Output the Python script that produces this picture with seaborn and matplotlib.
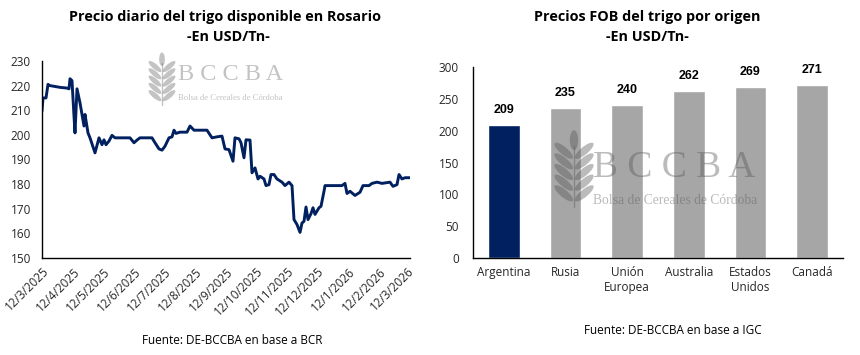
import matplotlib
matplotlib.use("Agg")
import matplotlib.pyplot as plt
import matplotlib.dates as mdates
from matplotlib.patches import Ellipse
import seaborn as sns
import pandas as pd

# ---------------- data ----------------
line_dates = [
    "2025-03-12", "2025-03-13", "2025-03-16", "2025-03-18", "2025-03-20", "2025-03-30",
    "2025-04-06", "2025-04-08", "2025-04-09", "2025-04-11", "2025-04-13", "2025-04-14",
    "2025-04-16", "2025-04-19", "2025-04-23", "2025-04-24", "2025-04-27", "2025-04-29",
    "2025-05-04", "2025-05-08", "2025-05-11", "2025-05-13", "2025-05-15", "2025-05-18",
    "2025-05-21", "2025-05-24", "2025-05-29", "2025-06-08", "2025-06-12", "2025-06-15",
    "2025-06-18", "2025-06-30", "2025-07-03", "2025-07-07", "2025-07-10", "2025-07-13",
    "2025-07-17", "2025-07-20", "2025-07-22", "2025-07-24", "2025-07-28", "2025-08-04",
    "2025-08-07", "2025-08-11", "2025-08-24", "2025-08-29", "2025-09-03", "2025-09-08",
    "2025-09-11", "2025-09-15", "2025-09-19", "2025-09-21", "2025-09-25", "2025-09-27",
    "2025-09-30", "2025-10-02", "2025-10-06", "2025-10-08", "2025-10-11", "2025-10-14",
    "2025-10-16", "2025-10-20", "2025-10-22", "2025-10-25", "2025-10-27", "2025-10-30",
    "2025-11-02", "2025-11-07", "2025-11-10", "2025-11-14", "2025-11-17", "2025-11-19",
    "2025-11-22", "2025-11-25", "2025-11-27", "2025-11-29", "2025-12-01", "2025-12-03",
    "2025-12-06", "2025-12-08", "2025-12-10", "2025-12-14", "2025-12-16", "2025-12-19",
    "2025-12-20", "2026-01-06", "2026-01-09", "2026-01-11", "2026-01-14", "2026-01-19",
    "2026-01-24", "2026-01-27", "2026-02-02", "2026-02-05", "2026-02-10", "2026-02-15",
    "2026-02-23", "2026-02-26", "2026-03-02", "2026-03-04", "2026-03-07", "2026-03-10",
    "2026-03-15",
]
line_prices = [
    209.7, 215.0, 215.0, 220.5, 220.0, 219.3,
    219.0, 218.7, 222.8, 222.0, 207.6, 200.8,
    218.7, 213.0, 203.6, 208.3, 200.8, 198.8,
    192.7, 198.8, 196.0, 198.0, 196.0, 197.5,
    199.8, 198.8, 198.8, 198.8, 196.8, 197.9,
    198.8, 198.8, 196.8, 194.3, 193.8, 195.4,
    198.8, 199.2, 201.9, 200.6, 201.1, 201.1,
    203.6, 201.9, 201.9, 198.8, 199.2, 199.5,
    194.3, 194.0, 189.3, 198.8, 198.4, 196.8,
    190.7, 198.0, 197.9, 184.6, 186.6, 182.1,
    183.2, 182.1, 179.4, 179.8, 183.9, 183.9,
    182.1, 180.8, 179.4, 180.8, 179.4, 165.6,
    163.6, 160.4, 164.2, 164.9, 170.7, 165.6,
    168.0, 170.4, 167.7, 170.4, 171.0, 177.1,
    179.4, 179.4, 180.3, 176.2, 177.1, 175.4,
    176.7, 179.4, 179.4, 180.3, 180.8, 180.3,
    180.8, 179.1, 179.8, 183.9, 182.1, 182.6,
    182.6,
]

countries = ["Argentina", "Rusia", "Unión\nEuropea", "Australia", "Estados\nUnidos", "Canadá"]
fob_prices = [209, 235, 240, 262, 269, 271]

title_left = ["Precio diario del trigo disponible en Rosario", "-En USD/Tn-"]
title_right = ["Precios FOB del trigo por origen", "-En USD/Tn-"]
source_left = "Fuente: DE-BCCBA en base a BCR"
source_right = "Fuente: DE-BCCBA en base a IGC"

# ---------------- style ----------------
sns.set_theme(style="white")
plt.rcParams["font.family"] = ["Open Sans", "DejaVu Sans"]

NAVY = "#002060"
GREY = "#a6a6a6"
TXT = "#262626"

W, H = 860, 355
fig = plt.figure(figsize=(W / 100, H / 100), dpi=100)

def fx(px):
    return px / W

def fy(py):
    return 1 - py / H

# ---------------- left: line ----------------
axL = fig.add_axes([fx(42), fy(258), fx(410 - 42), (258 - 61) / H])
df_line = pd.DataFrame({"fecha": pd.to_datetime(line_dates), "precio": line_prices})
sns.lineplot(data=df_line, x="fecha", y="precio", ax=axL, color=NAVY, linewidth=2.1)
axL.set_xlim(pd.Timestamp("2025-03-12"), pd.Timestamp("2026-03-15"))
axL.set_ylim(150, 230)
axL.set_yticks(range(150, 231, 10))
ticks = pd.date_range("2025-03-01", "2026-03-01", freq="MS") + pd.Timedelta(days=11)
axL.set_xticks(ticks)
axL.set_xticklabels([f"{d.day}/{d.month}/{d.year}" for d in ticks],
                    rotation=45, ha="right", rotation_mode="anchor", fontsize=8.5, color=TXT)
axL.tick_params(axis="y", labelsize=8.5, labelcolor=TXT, length=0, pad=8)
axL.tick_params(axis="x", length=0, pad=5)
axL.set_xlabel("")
axL.set_ylabel("")
for s in ["top", "right"]:
    axL.spines[s].set_visible(False)
for s in ["left", "bottom"]:
    axL.spines[s].set_color("black")
    axL.spines[s].set_linewidth(1.0)

# ---------------- right: bars ----------------
axR = fig.add_axes([fx(473), fy(258), fx(843 - 473), (258 - 67) / H])
df_bar = pd.DataFrame({"pais": countries, "fob": fob_prices})
palette = {c: (NAVY if i == 0 else GREY) for i, c in enumerate(countries)}
sns.barplot(data=df_bar, x="pais", y="fob", hue="pais", palette=palette,
            legend=False, ax=axR, width=0.51, saturation=1)
axR.set_ylim(0, 300)
axR.set_yticks(range(0, 301, 50))
axR.set_xlim(-0.5, len(countries) - 0.5)
axR.tick_params(axis="y", labelsize=8.5, labelcolor=TXT, length=0, pad=10)
axR.tick_params(axis="x", labelsize=8.5, labelcolor=TXT, length=0, pad=6)
axR.set_xlabel("")
axR.set_ylabel("")
for i, v in enumerate(fob_prices):
    axR.annotate(f"{v}", (i, v), xytext=(0, 15), textcoords="offset pixels",
                 ha="center", va="center", fontsize=9, fontweight="bold",
                 color="black", family=["Liberation Sans", "DejaVu Sans"])
for s in ["top", "right"]:
    axR.spines[s].set_visible(False)
for s in ["left", "bottom"]:
    axR.spines[s].set_color("black")
    axR.spines[s].set_linewidth(1.0)

# ---------------- titles and sources ----------------
tfont = dict(fontsize=10.4, fontweight="bold", color="black", ha="center", va="center")
fig.text(fx(225), fy(17), title_left[0], **tfont)
fig.text(fx(228), fy(37), title_left[1], **tfont)
fig.text(fx(647), fy(17), title_right[0], **tfont)
fig.text(fx(647), fy(37), title_right[1], **tfont)
fig.text(fx(232), fy(341), source_left, fontsize=8.5, color="black", ha="center", va="center")
fig.text(fx(673), fy(330), source_right, fontsize=8.5, color="black", ha="center", va="center")

# ---------------- watermarks ----------------
ov = fig.add_axes([0, 0, 1, 1], zorder=10)
ov.set_xlim(0, W)
ov.set_ylim(H, 0)
ov.axis("off")
ov.patch.set_alpha(0)

WM = "#555555"

def wheat(cx, top, h, alpha):
    w = h * 0.5
    ov.add_patch(Ellipse((cx, top + h * 0.12), w * 0.22, h * 0.26, angle=0,
                         color=WM, alpha=alpha, lw=0))
    n = 5
    for k in range(n):
        y = top + h * (0.26 + k * 0.14)
        for side in (-1, 1):
            ov.add_patch(Ellipse((cx + side * w * 0.27, y), w * 0.62, w * 0.2,
                                 angle=-side * 40, color=WM, alpha=alpha, lw=0))
    ov.plot([cx, cx], [top + h * 0.2, top + h], color=WM, alpha=alpha, lw=1)

def logo(x0, y_big, y_small, big_size, small_size, icon_cx, icon_top, icon_h, alpha):
    ov.text(x0, y_big, "B C C B A", fontsize=big_size, family=["Liberation Serif", "DejaVu Serif"],
            color=WM, alpha=alpha, ha="left", va="center")
    ov.text(x0, y_small, "Bolsa de Cereales de Córdoba", fontsize=small_size,
            family=["Liberation Serif", "DejaVu Serif"], color=WM, alpha=alpha, ha="left", va="center")
    wheat(icon_cx, icon_top, icon_h, alpha)

logo(178, 75, 98, 17.5, 6.2, 162, 53, 52, 0.35)
logo(593, 168, 201, 27, 9.8, 574, 131, 76, 0.4)

fig.savefig("out.png", dpi=100)
